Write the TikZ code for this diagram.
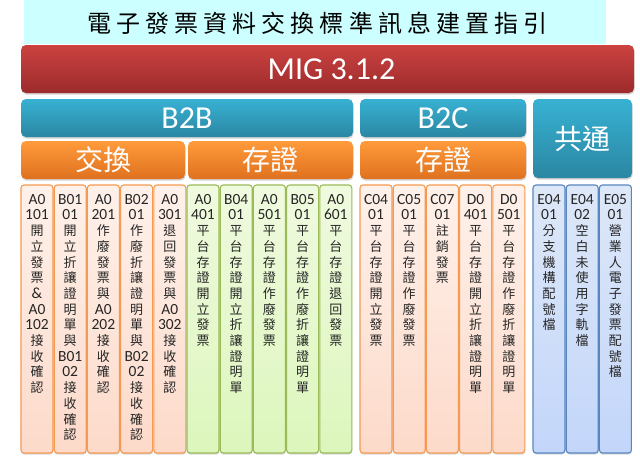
\documentclass[tikz,border=0pt]{standalone}
\usepackage{fontspec}
\setmainfont{Carlito}
\newfontfamily\cjk{Noto Sans CJK TC}
\newfontfamily\cjktitle[LetterSpace=21]{Noto Sans CJK TC}
\usetikzlibrary{shadows}

\definecolor{bandcyan}{HTML}{CCFFFF}
\definecolor{redtop}{HTML}{CB4240}
\definecolor{redbot}{HTML}{9C2B2C}
\definecolor{tealtop}{HTML}{38B1D3}
\definecolor{tealbot}{HTML}{2A87A2}
\definecolor{orgtop}{HTML}{FF9B3B}
\definecolor{orgbot}{HTML}{DF711F}
\definecolor{coltopO}{HTML}{FEF1EA}
\definecolor{colbotO}{HTML}{FDDACA}
\definecolor{colbrdO}{HTML}{F59A52}
\definecolor{coltopG}{HTML}{F0FADF}
\definecolor{colbotG}{HTML}{DCF6BC}
\definecolor{colbrdG}{HTML}{9BBB59}
\definecolor{coltopB}{HTML}{DDE8F8}
\definecolor{colbotB}{HTML}{C3D6FA}
\definecolor{colbrdB}{HTML}{5A86C0}
\definecolor{coltext}{HTML}{262626}

\newcommand\latl[1]{\hbox to\hsize{\hss\fontsize{15.5}{15}\selectfont #1\hss}}
\def\zhvEnd{zhvEndMarker}
\newcommand\zhv[1]{\zhvB#1\zhvEnd}
\def\zhvB#1{\ifx#1\zhvEnd\else\hbox to\hsize{\hss\cjk\fontsize{13}{15}\selectfont #1\hss}\expandafter\zhvB\fi}
\newcommand\colbody[1]{\vbox{\hsize=34pt\baselineskip=15.7pt\lineskiplimit=-100pt\relax #1}}

\tikzset{
  hdrbox/.style={anchor=north west, inner sep=0pt, outer sep=0pt, rounded corners=5pt,
     text=white, drop shadow={shadow xshift=0.6pt, shadow yshift=-1.6pt, opacity=0.35}},
  redbox/.style={hdrbox, top color=redtop, bottom color=redbot},
  tealbox/.style={hdrbox, top color=tealtop, bottom color=tealbot},
  orgbox/.style={hdrbox, top color=orgtop, bottom color=orgbot},
  latbig/.style={font=\fontsize{32}{34}\selectfont},
  cjkbig/.style={font=\cjk\fontsize{28}{30}\selectfont},
  colbox/.style={anchor=north west, minimum width=32pt, minimum height=268pt, inner sep=0pt,
     outer sep=0pt, rounded corners=3pt, line width=1.1pt,
     drop shadow={shadow xshift=0.3pt, shadow yshift=-1.6pt, opacity=0.3}},
  colO/.style={colbox, draw=colbrdO, top color=coltopO, bottom color=colbotO},
  colG/.style={colbox, draw=colbrdG, top color=coltopG, bottom color=colbotG},
  colB/.style={colbox, draw=colbrdB, top color=coltopB, bottom color=colbotB},
  coltxt/.style={anchor=north, inner sep=0pt, text=coltext}
}

\newcommand\mkcol[4]{%
  \node[#3] (#1) at (#2,185) {};
  \node[coltxt] (#1t) at ([yshift=-9pt]#1.north) {\colbody{#4}};}

\begin{document}
\begin{tikzpicture}[x=1pt,y=-1pt]
\useasboundingbox[fill=white] (0,0) rectangle (640,464);

% title band
\node[anchor=north west, fill=bandcyan, minimum width=582pt, minimum height=44pt,
      inner sep=0pt, outer sep=0pt] (band) at (24,0) {};
\node[inner sep=0pt, font=\cjktitle\fontsize{24}{26}\selectfont, text=black]
      (title) at ([xshift=2.5pt,yshift=-1pt]band.center) {電子發票資料交換標準訊息建置指引};

% MIG bar
\node[redbox, minimum width=613pt, minimum height=48pt] (mig) at (21,45) {};
\node[latbig, text=white, inner sep=0pt] (migt) at ([xshift=4pt]mig.center) {MIG 3.1.2};

% second row
\node[tealbox, minimum width=332pt, minimum height=38pt] (b2b) at (21,99) {};
\node[latbig, text=white, inner sep=0pt] (b2bt) at (b2b.center) {B2B};
\node[tealbox, minimum width=166pt, minimum height=38pt] (b2c) at (360,99) {};
\node[latbig, text=white, inner sep=0pt] (b2ct) at (b2c.center) {B2C};
\node[tealbox, minimum width=99pt, minimum height=79pt] (common) at (533,99) {};
\node[cjkbig, text=white, inner sep=0pt] (commont) at (common.center) {共通};

% third row
\node[orgbox, minimum width=164pt, minimum height=38pt] (xch) at (21,141) {};
\node[cjkbig, text=white, inner sep=0pt] (xcht) at (xch.center) {交換};
\node[orgbox, minimum width=165pt, minimum height=38pt] (stb) at (188,141) {};
\node[cjkbig, text=white, inner sep=0pt] (stbt) at (stb.center) {存證};
\node[orgbox, minimum width=166pt, minimum height=38pt] (stc) at (360,141) {};
\node[cjkbig, text=white, inner sep=0pt] (stct) at (stc.center) {存證};

% columns: B2B exchange
\mkcol{c1}{21}{colO}{\latl{A0}\latl{101}\zhv{開立發票}\latl{\&}\latl{A0}\latl{102}\zhv{接收確認}}
\mkcol{c2}{54.2}{colO}{\latl{B01}\latl{01}\zhv{開立折讓證明單與}\latl{B01}\latl{02}\zhv{接收確認}}
\mkcol{c3}{87.4}{colO}{\latl{A0}\latl{201}\zhv{作廢發票與}\latl{A0}\latl{202}\zhv{接收確認}}
\mkcol{c4}{120.6}{colO}{\latl{B02}\latl{01}\zhv{作廢折讓證明單與}\latl{B02}\latl{02}\zhv{接收確認}}
\mkcol{c5}{153.8}{colO}{\latl{A0}\latl{301}\zhv{退回發票與}\latl{A0}\latl{302}\zhv{接收確認}}
% B2B storage
\mkcol{g1}{187}{colG}{\latl{A0}\latl{401}\zhv{平台存證開立發票}}
\mkcol{g2}{220.2}{colG}{\latl{B04}\latl{01}\zhv{平台存證開立折讓證明單}}
\mkcol{g3}{253.4}{colG}{\latl{A0}\latl{501}\zhv{平台存證作廢發票}}
\mkcol{g4}{286.6}{colG}{\latl{B05}\latl{01}\zhv{平台存證作廢折讓證明單}}
\mkcol{g5}{319.8}{colG}{\latl{A0}\latl{601}\zhv{平台存證退回發票}}
% B2C storage
\mkcol{d1}{360}{colO}{\latl{C04}\latl{01}\zhv{平台存證開立發票}}
\mkcol{d2}{393.2}{colO}{\latl{C05}\latl{01}\zhv{平台存證作廢發票}}
\mkcol{d3}{426.4}{colO}{\latl{C07}\latl{01}\zhv{註銷發票}}
\mkcol{d4}{459.6}{colO}{\latl{D0}\latl{401}\zhv{平台存證開立折讓證明單}}
\mkcol{d5}{492.8}{colO}{\latl{D0}\latl{501}\zhv{平台存證作廢折讓證明單}}
% common
\mkcol{e1}{533}{colB}{\latl{E04}\latl{01}\zhv{分支機構配號檔}}
\mkcol{e2}{566.2}{colB}{\latl{E04}\latl{02}\zhv{空白未使用字軌檔}}
\mkcol{e3}{599.4}{colB}{\latl{E05}\latl{01}\zhv{營業人電子發票配號檔}}
\end{tikzpicture}
\end{document}
